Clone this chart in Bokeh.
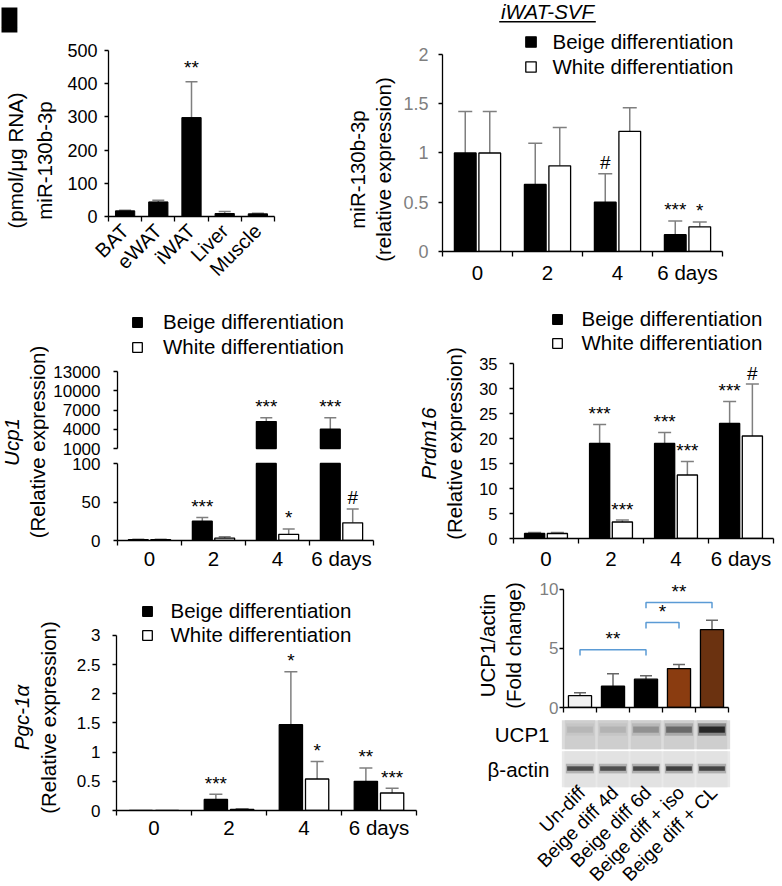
import numpy as np
from math import pi
from bokeh.plotting import figure
from bokeh.models import (ColumnDataSource, FixedTicker, LinearAxis, Legend, LegendItem,
                          LabelSet, Label, Range1d, Whisker, TeeHead, NumeralTickFormatter,
                          CustomJSTickFormatter, BoxAnnotation)
from bokeh.layouts import row, column
from bokeh.core.properties import value
from bokeh.embed import file_html
from bokeh.resources import INLINE

FONT = "Liberation Sans"
GRAY = "#7f7f7f"
LBL = "20.5px"
XT = "20.5px"
LEG = "20.5px"
SIG = "19px"

# ---------------- data ----------------
# A: miR-130b-3p in tissues
tissues = ["BAT", "eWAT", "iWAT", "Liver", "Muscle"]
tissue_mir = [17, 44, 298, 9, 8]
tissue_mir_err = [2, 5, 108, 6, 2]
tissue_sig = ["", "", "**", "", ""]

# B-E: time course
days = ["0", "2", "4", "6 days"]
mir_beige = [1.0, 0.68, 0.50, 0.17]
mir_beige_err = [0.42, 0.42, 0.29, 0.14]
mir_white = [1.0, 0.87, 1.22, 0.25]
mir_white_err = [0.42, 0.39, 0.24, 0.05]
mir_beige_sig = ["", "", "#", "***"]
mir_white_sig = ["", "", "", "*"]

ucp1_beige = [1.0, 25, 5200, 4000]
ucp1_beige_err = [0.5, 5, 600, 1800]
ucp1_white = [1.0, 3, 8, 23]
ucp1_white_err = [0.5, 2, 7, 18]
ucp1_beige_sig = ["", "***", "***", "***"]
ucp1_white_sig = ["", "", "*", "#"]
ucp1_lower_ticks = [0, 50, 100]
ucp1_upper_ticks = [1000, 4000, 7000, 10000, 13000]

prdm_beige = [1.0, 19.0, 19.0, 23.0]
prdm_beige_err = [0.2, 3.8, 2.2, 4.4]
prdm_white = [1.0, 3.3, 12.7, 20.5]
prdm_white_err = [0.2, 0.4, 2.7, 10.4]
prdm_beige_sig = ["", "***", "***", "***"]
prdm_white_sig = ["", "***", "***", "#"]

pgc_beige = [0.0, 0.19, 1.47, 0.50]
pgc_beige_err = [0.0, 0.09, 0.91, 0.23]
pgc_white = [0.0, 0.02, 0.54, 0.30]
pgc_white_err = [0.0, 0.01, 0.30, 0.08]
pgc_beige_sig = ["", "***", "*", "**"]
pgc_white_sig = ["", "", "*", "***"]

# F: UCP1 western blot quantification
conditions = ["Un-diff", "Beige diff 4d", "Beige diff 6d", "Beige diff + iso", "Beige diff + CL"]
ucp1_actin = [1.0, 1.8, 2.4, 3.3, 6.6]
ucp1_actin_err = [0.25, 1.05, 0.3, 0.35, 0.8]
cond_colors = ["#f2f2f2", "black", "black", "#8a3c10", "#6b3210"]
bracket_from = [0, 2, 2]
bracket_to = [2, 3, 4]
bracket_height = [4.9, 7.2, 8.9]
bracket_sig = ["**", "*", "**"]
blot_rows = ["\u03b2-actin", "UCP1"]
blot_ucp1 = [0.10, 0.12, 0.28, 0.50, 0.95]
blot_actin = [0.72, 0.70, 0.74, 0.80, 0.76]

# ---------------- helpers ----------------
def base_fig(w, h, xr, yr, l, r, t, b, xaxis=True, yaxis=True, title=None):
    p = figure(width=w, height=h, x_range=xr, y_range=yr, output_backend="svg",
               toolbar_location=None, tools="", title=title,
               x_axis_location="below" if xaxis else None,
               y_axis_location="left" if yaxis else None,
               min_border_left=l, min_border_right=r,
               min_border_top=t, min_border_bottom=b)
    p.outline_line_color = None
    p.grid.visible = False
    p.background_fill_color = "white"
    p.border_fill_color = "white"
    return p


def style_y(ax, ticks, size, color="black", standoff=10, bounds=None):
    ax.ticker = FixedTicker(ticks=list(ticks))
    ax.formatter = NumeralTickFormatter(format="0.[0]")
    ax.axis_line_width = 1.3
    ax.axis_line_color = "black"
    ax.major_tick_line_width = 1.3
    ax.major_tick_in = 0
    ax.major_tick_out = 4
    ax.minor_tick_line_color = None
    ax.major_label_text_font = FONT
    ax.major_label_text_font_size = size
    ax.major_label_text_color = color
    ax.major_label_standoff = standoff
    if bounds is not None:
        ax.bounds = bounds


def style_x_groups(ax, labels, standoff, size=XT, bounds=None):
    n = len(labels)
    ax.ticker = FixedTicker(ticks=[i + 0.5 for i in range(n)], minor_ticks=list(range(n + 1)))
    ax.formatter = CustomJSTickFormatter(args=dict(labels=list(labels)),
                                         code="return labels[Math.round(tick - 0.5)];")
    ax.axis_line_width = 1.3
    ax.axis_line_color = "black"
    ax.major_tick_in = 0
    ax.major_tick_out = 0
    ax.minor_tick_in = 0
    ax.minor_tick_out = 5
    ax.minor_tick_line_width = 1.3
    ax.minor_tick_line_color = "black"
    ax.major_label_text_font = FONT
    ax.major_label_text_font_size = size
    ax.major_label_text_color = "black"
    ax.major_label_standoff = standoff
    if bounds is not None:
        ax.bounds = bounds


def bare_axis(ax):
    """An axis that draws only its line (no ticks, no labels, zero extent)."""
    ax.ticker = FixedTicker(ticks=[])
    ax.major_tick_out = 0
    ax.major_tick_in = 0
    ax.minor_tick_out = 0
    ax.minor_tick_in = 0
    ax.major_tick_line_color = None
    ax.minor_tick_line_color = None
    ax.major_label_standoff = 0
    ax.major_label_text_font_size = "0px"
    ax.axis_line_width = 1.3
    ax.axis_line_color = "black"


def add_label_axis(p, text, standoff, italic=False):
    ax = LinearAxis(ticker=FixedTicker(ticks=[]), axis_line_color=None,
                    major_tick_line_color=None, minor_tick_line_color=None,
                    major_tick_out=0, major_tick_in=0, minor_tick_out=0, minor_tick_in=0,
                    major_label_standoff=0, major_label_text_font_size="0px")
    ax.axis_label = text
    ax.axis_label_standoff = standoff
    ax.axis_label_text_font = FONT
    ax.axis_label_text_font_size = LBL
    ax.axis_label_text_font_style = "italic" if italic else "normal"
    ax.axis_label_text_color = "black"
    p.add_layout(ax, "left")
    return ax


def label_fig(w, h, top, frame_h, inner, s_in, outer, s_out, in_italic=False, out_italic=False,
              title=None):
    p = base_fig(w, h, Range1d(0, 1), Range1d(0, 1), w - 1, 0, top, h - top - frame_h,
                 xaxis=False, yaxis=False, title=title)
    add_label_axis(p, inner, s_in, in_italic)
    add_label_axis(p, outer, s_out, out_italic)
    return p


def add_err(p, x, tops, errs, cap=13, color=GRAY, keep=None, range_name="default"):
    idx = [i for i in range(len(tops)) if errs[i] > 0 and (keep is None or keep(tops[i]))]
    if not idx:
        return
    src = ColumnDataSource(dict(x=[float(x[i]) for i in idx],
                                lo=[tops[i] for i in idx],
                                hi=[tops[i] + errs[i] for i in idx]))
    w = Whisker(source=src, base="x", lower="lo", upper="hi", line_color=color, line_width=1.5,
                upper_head=TeeHead(size=cap, line_color=color, line_width=1.5), lower_head=None,
                y_range_name=range_name)
    p.add_layout(w)


def add_sig(p, x, tops, errs, sig, keep=None, offset=11, size=SIG, range_name="default"):
    idx = [i for i, s in enumerate(sig) if s and (keep is None or keep(tops[i]))]
    if not idx:
        return
    src = ColumnDataSource(dict(x=[float(x[i]) for i in idx],
                                y=[tops[i] + errs[i] for i in idx],
                                t=[sig[i] for i in idx]))
    p.add_layout(LabelSet(x="x", y="y", text="t", source=src, y_offset=offset,
                          text_align="center", text_baseline="middle", y_range_name=range_name,
                          text_font=value(FONT), text_font_size=value(size), text_color="black"))


OFF = 0.175
BW = 0.31


def grouped(p, beige, beige_err, white, white_err, cap=13):
    c = np.arange(len(beige)) + 0.5
    xb = c - OFF
    xw = c + OFF
    rb = p.vbar(x=xb, top=beige, bottom=0, width=BW, fill_color="black",
                line_color="black", line_width=1.3)
    rw = p.vbar(x=xw, top=white, bottom=0, width=BW, fill_color="white",
                line_color="black", line_width=1.3)
    add_err(p, xb, beige, beige_err, cap)
    add_err(p, xw, white, white_err, cap)
    return rb, rw, xb, xw


def add_legend(p, rb, rw, vx, vy, spacing, glyph=13, standoff=16):
    lg = Legend(items=[LegendItem(label="Beige differentiation", renderers=[rb]),
                       LegendItem(label="White differentiation", renderers=[rw])],
                location=(vx, vy), orientation="vertical", border_line_color=None,
                background_fill_alpha=0, padding=0, margin=0, spacing=spacing,
                glyph_width=glyph, glyph_height=glyph, label_standoff=standoff,
                label_text_font=FONT, label_text_font_size=LEG, label_height=20,
                label_text_color="black")
    p.add_layout(lg)

# ---------------- Panel A ----------------
labA = label_fig(60, 290, 35, 248, "miR-130b-3p", 5, "(pmol/\u03bcg RNA)", 3, title="A")
labA.title.text_font = FONT
labA.title.text_font_size = "22px"
labA.title.text_font_style = "bold"
labA.title.text_color = "black"
labA.title.background_fill_color = "black"
labA.title.align = "left"
labA.title.offset = -59
labA.title.standoff = 10

pA = base_fig(270, 290, Range1d(0, 5), Range1d(0, 500), 48, 56, 50, 73)
style_y(pA.yaxis[0], [0, 100, 200, 300, 400, 500], "18px", standoff=7)
style_x_groups(pA.xaxis[0], tissues, standoff=6, size="20px")
pA.xaxis[0].major_label_orientation = pi / 4
cA = np.arange(len(tissues)) + 0.5
pA.vbar(x=cA, top=tissue_mir, bottom=0, width=0.58, fill_color="black", line_color="black")
add_err(pA, cA, tissue_mir, tissue_mir_err, cap=12)
add_sig(pA, cA, tissue_mir, tissue_mir_err, tissue_sig, offset=14)

# ---------------- Panel B ----------------
labB = label_fig(70, 290, 60, 218, "(relative expression)", 5, "miR-130b-3p", 0)
pB = base_fig(382, 290, Range1d(0, 4.857), Range1d(0, 2.548), 42, 0, 0, 39)
style_y(pB.yaxis[0], [0, 0.5, 1, 1.5, 2], "18px", color=GRAY, standoff=10, bounds=(0, 2))
style_x_groups(pB.xaxis[0], days, standoff=4, bounds=(0, 4))
rb, rw, xb, xw = grouped(pB, mir_beige, mir_beige_err, mir_white, mir_white_err, cap=14)
add_legend(pB, rb, rw, 81.5, 172.5, 1, 13, 16)
add_sig(pB, xb, mir_beige, mir_beige_err, mir_beige_sig)
add_sig(pB, xw, mir_white, mir_white_err, mir_white_sig)
pB.add_layout(Label(x=1.5, y=2.432, text="iWAT-SVF", text_align="center",
                    text_baseline="alphabetic", text_font=FONT, text_font_size=LBL,
                    text_font_style="italic", text_color="black"))
pB.add_layout(BoxAnnotation(left=0.81, right=2.19, bottom=2.325, top=2.340, fill_color="black",
                            fill_alpha=1.0, line_color=None))

# ---------------- Panel C (Ucp1, broken axis in one figure) ----------------
labC = label_fig(48, 288, 55, 193, "(Relative expression)", 0, "Ucp1", 0, out_italic=True)
C_FRAME_PX = 250          # frame height
C_LOW_PX = 77             # pixels for the lower segment (0..100)
C_GAP_PX = 15             # gap between segments
C_UP_PX = 77              # pixels for the upper segment (1000..13000)
low_lo, low_hi = ucp1_lower_ticks[0], ucp1_lower_ticks[-1]
up_lo, up_hi = ucp1_upper_ticks[0], ucp1_upper_ticks[-1]
low_per_px = (low_hi - low_lo) / C_LOW_PX
up_per_px = (up_hi - up_lo) / C_UP_PX
up_start = up_lo - (C_LOW_PX + C_GAP_PX) * up_per_px
up_end = up_start + C_FRAME_PX * up_per_px

pC = base_fig(352, 288, Range1d(0, 4), Range1d(low_lo, low_lo + C_FRAME_PX * low_per_px),
              69, 27, 0, 38)
pC.extra_y_ranges = {"upper": Range1d(up_start, up_end)}
bare_axis(pC.yaxis[0])
pC.yaxis[0].bounds = (low_lo, low_hi)
ax_up_line = LinearAxis(y_range_name="upper")
bare_axis(ax_up_line)
ax_up_line.bounds = (up_lo, up_hi)
pC.add_layout(ax_up_line, "left")
# tick marks + labels for both segments, expressed in the upper range's units
to_up = lambda v: up_start + (v - low_lo) / low_per_px * up_per_px
tick_pos = [to_up(v) for v in ucp1_lower_ticks] + list(ucp1_upper_ticks)
tick_txt = [str(v) for v in ucp1_lower_ticks] + [str(v) for v in ucp1_upper_ticks]
ax_ticks = LinearAxis(y_range_name="upper", ticker=FixedTicker(ticks=tick_pos),
                      formatter=CustomJSTickFormatter(
                          args=dict(pos=tick_pos, txt=tick_txt),
                          code="let b = 0; for (let i = 0; i < pos.length; i++) "
                               "{ if (Math.abs(pos[i] - tick) < Math.abs(pos[b] - tick)) b = i; } "
                               "return txt[b];"))
ax_ticks.axis_line_color = None
ax_ticks.major_tick_out = 4
ax_ticks.major_tick_in = 0
ax_ticks.major_tick_line_width = 1.3
ax_ticks.minor_tick_line_color = None
ax_ticks.major_label_standoff = 13
ax_ticks.major_label_text_font = FONT
ax_ticks.major_label_text_font_size = "17px"
ax_ticks.major_label_text_color = "black"
pC.add_layout(ax_ticks, "left")
style_x_groups(pC.xaxis[0], days, standoff=1)

cC = np.arange(len(days)) + 0.5
xbC, xwC = cC - OFF, cC + OFF
is_up = lambda v: v > low_hi
is_low = lambda v: v <= low_hi
rbC = pC.vbar(x=xbC, top=[min(v, low_hi) for v in ucp1_beige], bottom=0, width=BW,
              fill_color="black", line_color="black", line_width=1.3)
rwC = pC.vbar(x=xwC, top=[min(v, low_hi) for v in ucp1_white], bottom=0, width=BW,
              fill_color="white", line_color="black", line_width=1.3)
for xs, vals, col in ((xbC, ucp1_beige, "black"), (xwC, ucp1_white, "white")):
    sel = [i for i, v in enumerate(vals) if is_up(v)]
    if sel:
        pC.vbar(x=[float(xs[i]) for i in sel], top=[vals[i] for i in sel], bottom=up_lo,
                width=BW, fill_color=col, line_color="black", line_width=1.3,
                y_range_name="upper")
for xs, vals, errs, sig in ((xbC, ucp1_beige, ucp1_beige_err, ucp1_beige_sig),
                            (xwC, ucp1_white, ucp1_white_err, ucp1_white_sig)):
    add_err(pC, xs, vals, errs, cap=12, keep=is_low)
    add_err(pC, xs, vals, errs, cap=12, keep=is_up, range_name="upper")
    add_sig(pC, xs, vals, errs, sig, keep=is_low)
    add_sig(pC, xs, vals, errs, sig, keep=is_up, range_name="upper")
add_legend(pC, rbC, rwC, 14, 181.5, 1, 12, 20)

# ---------------- Panel D (Prdm16) ----------------
labD = label_fig(70, 288, 60, 186, "(Relative expression)", 4, "Prdm16", 0, out_italic=True)
pD = base_fig(312, 288, Range1d(0, 4), Range1d(0, 49.6), 43, 9, 0, 40)
style_y(pD.yaxis[0], [0, 5, 10, 15, 20, 25, 30, 35], "16.5px", standoff=12, bounds=(0, 35))
style_x_groups(pD.xaxis[0], days, standoff=3)
rb, rw, xb, xw = grouped(pD, prdm_beige, prdm_beige_err, prdm_white, prdm_white_err, cap=13)
add_legend(pD, rb, rw, 37.5, 183, 0, 12, 19)
add_sig(pD, xb, prdm_beige, prdm_beige_err, prdm_beige_sig)
add_sig(pD, xw, prdm_white, prdm_white_err, prdm_white_sig)

# ---------------- Panel E (Pgc-1a) ----------------
labE = label_fig(64, 308, 52, 174, "(Relative expression)", 4, "Pgc-1\u03b1", 1, out_italic=True)
pE = base_fig(376, 308, Range1d(0, 4), Range1d(0, 3.977), 52, 24, 0, 76)
style_y(pE.yaxis[0], [0, 0.5, 1, 1.5, 2, 2.5, 3], "17px", standoff=12, bounds=(0, 3))
style_x_groups(pE.xaxis[0], days, standoff=0)
rb, rw, xb, xw = grouped(pE, pgc_beige, pgc_beige_err, pgc_white, pgc_white_err, cap=13)
add_legend(pE, rb, rw, 24.5, 163.5, 0, 12, 18)
add_sig(pE, xb, pgc_beige, pgc_beige_err, pgc_beige_sig)
add_sig(pE, xw, pgc_white, pgc_white_err, pgc_white_sig)

# ---------------- Panel F (western blot) ----------------
labF = label_fig(92, 139, 12, 110, "(Fold change)", 7, "UCP1/actin", 0)
cF = np.arange(len(conditions)) + 0.5
pF = base_fig(250, 139, Range1d(0, 5), Range1d(0, 10.93), 31, 54, 0, 10)
style_y(pF.yaxis[0], [0, 5, 10], "17px", color=GRAY, standoff=1, bounds=(0, 10))
axF = pF.xaxis[0]
axF.ticker = FixedTicker(ticks=[], minor_ticks=list(range(len(conditions) + 1)))
axF.axis_line_width = 1.3
axF.major_tick_out = 0
axF.major_tick_in = 0
axF.minor_tick_out = 5
axF.minor_tick_in = 0
axF.minor_tick_line_width = 1.3
axF.major_label_standoff = 0
axF.major_label_text_font_size = "0px"
pF.vbar(x=cF, top=ucp1_actin, bottom=0, width=0.7, fill_color=cond_colors,
        line_color="black", line_width=1.3)
add_err(pF, cF, ucp1_actin, ucp1_actin_err, cap=12, color="#666666")
drop = 0.5
bx = [[cF[a], cF[a], cF[b], cF[b]] for a, b in zip(bracket_from, bracket_to)]
by = [[h - drop, h, h, h - drop] for h in bracket_height]
pF.multi_line(xs=bx, ys=by, line_color="#5b9bd5", line_width=1.5)
bsrc = ColumnDataSource(dict(x=[(cF[a] + cF[b]) / 2 for a, b in zip(bracket_from, bracket_to)],
                             y=bracket_height, t=bracket_sig))
pF.add_layout(LabelSet(x="x", y="y", text="t", source=bsrc, y_offset=11, text_align="center",
                       text_baseline="middle", text_font=value(FONT), text_font_size=value(SIG),
                       text_color="black"))

# blot: same horizontal scale as the bar chart above (33 px per lane), frame spans whole width
pFb = base_fig(342, 169, Range1d(-123 / 33, 5 + 54 / 33), Range1d(2 - 169 / 34.5, 2), 0, 0, 0, 0,
               xaxis=False, yaxis=False)
pFb.rect(x=2.5, y=1.5, width=5.1, height=0.84, fill_color="#dcdcdc", line_color=None)
pFb.rect(x=cF, y=1.5, width=0.92, height=0.84, fill_color="#cecece", line_color=None)
pFb.rect(x=2.5, y=0.5, width=5.1, height=1.04, fill_color="#e9e9e9", line_color=None)
pFb.rect(x=cF, y=0.5, width=0.94, height=1.04, fill_color="#e2e2e2", line_color=None)
pFb.rect(x=cF, y=1.65, width=0.86, height=0.36, fill_color="black",
         fill_alpha=[v * 0.35 for v in blot_ucp1], line_color=None)
pFb.rect(x=cF, y=1.65, width=0.78, height=0.18, fill_color="black",
         fill_alpha=[v * 0.75 for v in blot_ucp1], line_color=None)
pFb.rect(x=cF, y=0.52, width=0.86, height=0.28, fill_color="black",
         fill_alpha=[v * 0.3 for v in blot_actin], line_color=None)
pFb.rect(x=cF, y=0.52, width=0.78, height=0.13, fill_color="black",
         fill_alpha=[v * 0.8 for v in blot_actin], line_color=None)
rsrc = ColumnDataSource(dict(x=[0.0, 0.0], y=[0.5, 1.5], t=blot_rows))
pFb.add_layout(LabelSet(x="x", y="y", text="t", source=rsrc, x_offset=-14, text_align="right",
                        text_baseline="middle", text_font=value(FONT), text_font_size=value(LBL),
                        text_color="black"))
csrc = ColumnDataSource(dict(x=list(cF), y=[0] * len(conditions), t=conditions))
pFb.add_layout(LabelSet(x="x", y="y", text="t", source=csrc, angle=pi / 4, text_align="right",
                        text_baseline="middle", x_offset=2, y_offset=-3,
                        text_font=value(FONT), text_font_size=value("19px"), text_color="black"))

C = lambda *figs: column(*figs)
layout = column(
    row(C(labA), C(pA), C(labB), C(pB)),
    row(C(labC), C(pC), C(labD), C(pD)),
    row(C(labE), C(pE), C(C(row(C(labF), C(pF))), C(pFb))),
)

open("out.html", "w").write(file_html(layout, INLINE, title="miR-130b-3p"))
